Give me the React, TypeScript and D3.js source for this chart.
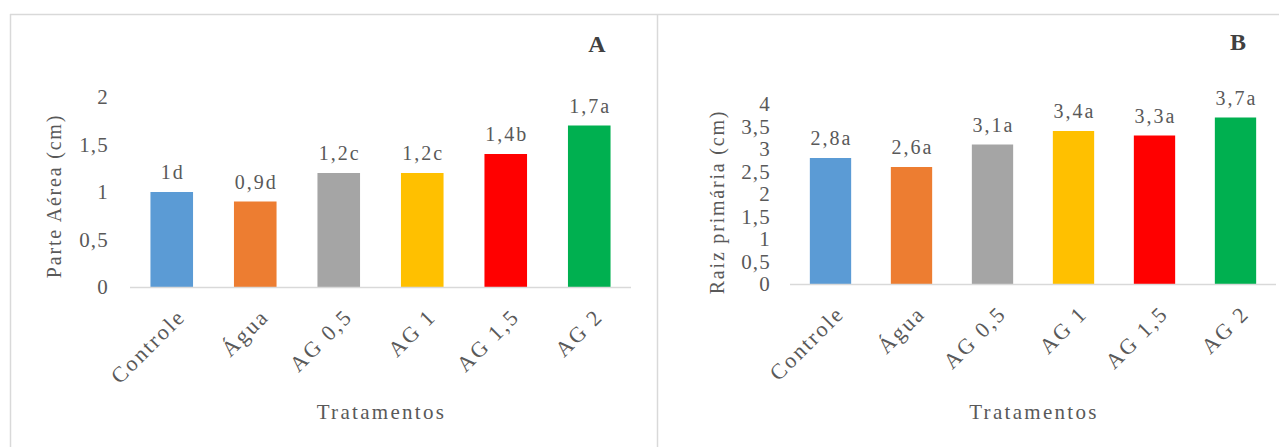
import React from "react";
import * as d3 from "d3";

// Treatments shared by both panels
const categories = ["Controle", "Água", "AG 0,5", "AG 1", "AG 1,5", "AG 2"];
const barColors = ["#5B9BD5", "#ED7D31", "#A5A5A5", "#FFC000", "#FF0000", "#00B050"];

// Panel A: shoot length (cm) and significance letters
const shootValues = [1.0, 0.9, 1.2, 1.2, 1.4, 1.7];
const shootLetters = ["d", "d", "c", "c", "b", "a"];
const shootTicks = [0, 0.5, 1, 1.5, 2];

// Panel B: primary root length (cm) and significance letters
const rootValues = [2.8, 2.6, 3.1, 3.4, 3.3, 3.7];
const rootLetters = ["a", "a", "a", "a", "a", "a"];
const rootTicks = [0, 0.5, 1, 1.5, 2, 2.5, 3, 3.5, 4];

const W = 1279;
const H = 447;
const FONT = "Liberation Serif";
const TEXT = "#595959";
const GRID = "#d9d9d9";

const fmt = (v: number) => String(v).replace(".", ",");

type PanelProps = {
  values: number[];
  letters: string[];
  ticks: number[];
  yMax: number;
  x0: number;
  x1: number;
  yBase: number;
  yTop: number;
  tickX: number;
  titleX: number;
  titleY: number;
  yTitle: string;
  tag: string;
  tagX: number;
  tagY: number;
};

function Panel(p: PanelProps) {
  const x = d3.scaleBand<string>().domain(categories).range([p.x0, p.x1]).paddingInner(0.49).paddingOuter(0.245);
  const y = d3.scaleLinear().domain([0, p.yMax]).range([p.yBase, p.yTop]);
  const cx = (c: string) => (x(c) as number) + x.bandwidth() / 2;
  return (
    <g fill={TEXT}>
      {p.ticks.map((t) => (
        <text key={t} x={p.tickX} y={y(t)} dy="0.35em" textAnchor="end" fontSize={21} letterSpacing={1.2}>
          {fmt(t)}
        </text>
      ))}
      {categories.map((c, i) => (
        <rect key={c} x={x(c)} y={y(p.values[i])} width={x.bandwidth()} height={p.yBase - y(p.values[i])} fill={barColors[i]} />
      ))}
      <line x1={p.x0} x2={p.x1} y1={p.yBase + 0.5} y2={p.yBase + 0.5} stroke={GRID} strokeWidth={1.5} />
      {categories.map((c, i) => (
        <text key={c} x={cx(c) + 1} y={y(p.values[i]) - 13} textAnchor="middle" fontSize={20} letterSpacing={2}>
          {fmt(p.values[i]) + p.letters[i]}
        </text>
      ))}
      {categories.map((c) => (
        <text
          key={c}
          transform={`translate(${cx(c) + 15},${p.yBase + 31}) rotate(-45)`}
          textAnchor="end"
          fontSize={22}
          letterSpacing={2.2}
        >
          {c}
        </text>
      ))}
      <text
        transform={`translate(${p.titleX},${p.titleY}) rotate(-90)`}
        textAnchor="middle"
        fontSize={20}
        letterSpacing={1.8}
      >
        {p.yTitle}
      </text>
      <text x={(p.x0 + p.x1) / 2 + 1} y={419} textAnchor="middle" fontSize={21} letterSpacing={2.3}>
        Tratamentos
      </text>
      <text x={p.tagX} y={p.tagY} textAnchor="middle" fontSize={24} fontWeight="bold" fill="#404040">
        {p.tag}
      </text>
    </g>
  );
}

export default function App() {
  return (
    <svg
      width={W}
      height={H}
      style={{ position: "absolute", left: 0, top: 0, background: "#fff", fontFamily: FONT }}
    >
      <rect x={0} y={0} width={W} height={H} fill="#fff" />
      {/* chart frames */}
      <line x1={10} x2={W} y1={14.5} y2={14.5} stroke={GRID} strokeWidth={1.5} />
      <line x1={10.5} x2={10.5} y1={14} y2={H} stroke={GRID} strokeWidth={1.5} />
      <line x1={657.5} x2={657.5} y1={14} y2={H} stroke={GRID} strokeWidth={1.5} />
      <Panel
        values={shootValues}
        letters={shootLetters}
        ticks={shootTicks}
        yMax={2}
        x0={130}
        x1={631}
        yBase={287}
        yTop={97}
        tickX={109}
        titleX={61}
        titleY={196}
        yTitle="Parte Aérea (cm)"
        tag="A"
        tagX={597}
        tagY={52}
      />
      <Panel
        values={rootValues}
        letters={rootLetters}
        ticks={rootTicks}
        yMax={4}
        x0={790}
        x1={1276}
        yBase={284}
        yTop={104}
        tickX={771}
        titleX={724}
        titleY={202}
        yTitle="Raiz primária (cm)"
        tag="B"
        tagX={1238}
        tagY={50}
      />
    </svg>
  );
}
